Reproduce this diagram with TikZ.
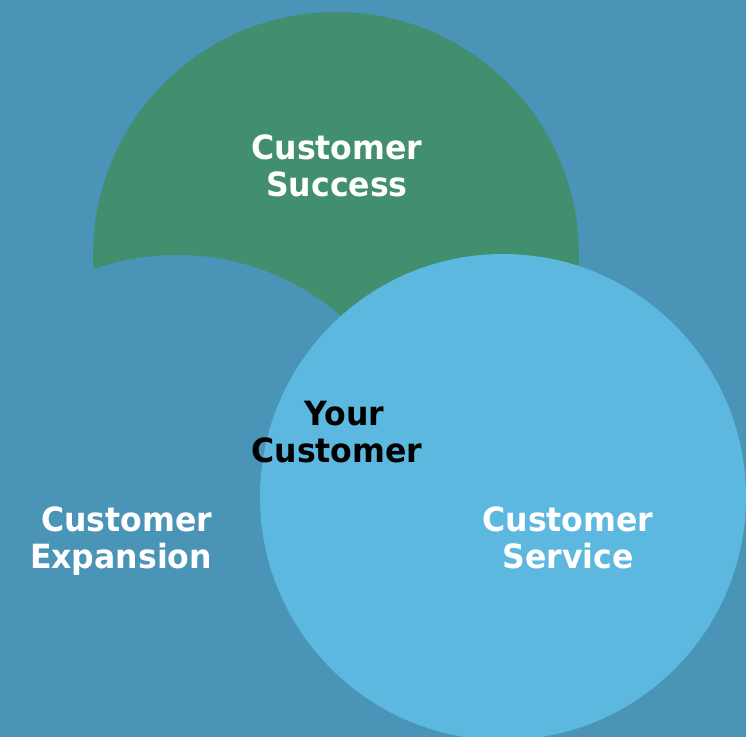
\documentclass[tikz,border=0pt]{standalone}
\usepackage{fontspec}
\setmainfont{DejaVu Sans}[FakeStretch=0.945]
\usepackage{xcolor}
\usepackage{tikz}
\usetikzlibrary{positioning}

\definecolor{bgblue}{HTML}{4A94B8}
\definecolor{succgreen}{HTML}{418F6F}
\definecolor{servblue}{HTML}{5DB8E0}

\begin{document}
\begin{tikzpicture}[x=0.02cm, y=-0.02cm]
\tikzstyle{label} = [align=center, font=\fontsize{19}{21}\selectfont\bfseries, text=white, inner sep=0pt]

\useasboundingbox (0,0) rectangle (746,736);
\fill[bgblue] (-20,-20) rectangle (766,756);

% circles
\fill[succgreen] (336,255) circle (243);
\fill[bgblue] (177,505) circle (250);
\fill[servblue] (503,497) circle (243);

% labels
\node (success) [label] at (337,166) {Customer\\Success};
\node (expansion) [label, align=right] at (121,541) {Customer\\Expansion};
\node (service) [label] at (568,538) {Customer\\Service};
\node (yours) [label, text=black] at (337,432) {\hspace*{0.3cm}Your\\Customer};

\end{tikzpicture}
\end{document}
